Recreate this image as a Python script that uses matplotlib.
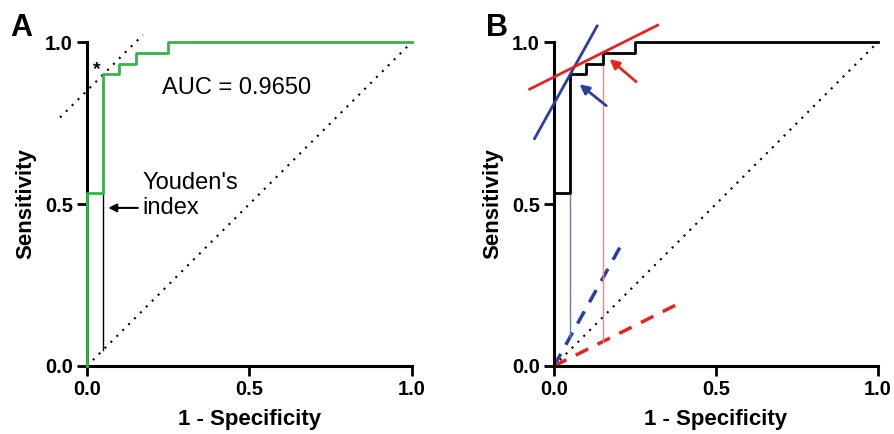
import matplotlib.pyplot as plt
import numpy as np

plt.rcParams['font.family'] = ['Liberation Sans', 'DejaVu Sans']

# ROC curve (step points)
fpr = [0, 0, 0.05, 0.05, 0.10, 0.10, 0.15, 0.15, 0.25, 0.25, 1.0]
tpr = [0, 0.533, 0.533, 0.9, 0.9, 0.933, 0.933, 0.967, 0.967, 1.0, 1.0]
auc_text = "AUC = 0.9650"

# Youden point / tangent in panel A
youden_x, youden_y = 0.05, 0.9
tangent_a_x = [-0.083, 0.172]

# panel B tangent lines
blue_pt = (0.05, 0.9)
blue_slope = 1.8
blue_x = [-0.06, 0.133]
red_pt = (0.15, 0.967)
red_slope = 0.5
red_x = [-0.075, 0.32]
blue_dash_end = 0.204
red_dash_end = 0.383

green = '#35b44a'
blue = '#2b3f9c'
red = '#e52421'

fig = plt.figure(figsize=(8.95, 4.34), dpi=100)
axA = fig.add_axes([0.0972, 0.1567, 0.363, 0.7465])
axB = fig.add_axes([0.619, 0.1567, 0.362, 0.7465])


def style(ax):
    ax.set_xlim(0, 1)
    ax.set_ylim(0, 1)
    for s in ['top', 'right']:
        ax.spines[s].set_visible(False)
    for s in ['left', 'bottom']:
        ax.spines[s].set_linewidth(2.2)
    ax.set_xticks([0, 0.5, 1.0])
    ax.set_yticks([0, 0.5, 1.0])
    ax.set_xticklabels(['0.0', '0.5', '1.0'], fontweight='bold')
    ax.set_yticklabels(['0.0', '0.5', '1.0'], fontweight='bold')
    ax.tick_params(direction='out', length=7, width=2, labelsize=14.5, pad=3)
    ax.set_xlabel('1 - Specificity', fontsize=16, fontweight='bold', labelpad=7)
    ax.set_ylabel('Sensitivity', fontsize=16, fontweight='bold', labelpad=6)
    ax.plot([0, 1], [0, 1], ls=(0, (1, 3)), color='black', lw=1.5, clip_on=False)


# Panel A
style(axA)
axA.plot(tangent_a_x, [x - youden_x + youden_y for x in tangent_a_x],
         ls=(0, (1, 3)), color='black', lw=1.5, clip_on=False)
axA.plot([youden_x, youden_x], [youden_x, youden_y], color='black', lw=1, zorder=3)
axA.plot(fpr, tpr, color=green, lw=2, clip_on=False, zorder=4)
axA.text(0.03, 0.915, '*', fontsize=14, fontweight='bold', ha='center', va='center')
axA.text(0.232, 0.858, auc_text, fontsize=17, va='center')
axA.annotate('', xy=(0.057, 0.488), xytext=(0.165, 0.488),
             arrowprops=dict(arrowstyle='-|>', color='black', lw=1.5, mutation_scale=12))
axA.text(0.172, 0.565, "Youden's", fontsize=17, va='center')
axA.text(0.172, 0.488, "index", fontsize=17, va='center')
fig.text(0.011, 0.935, 'A', fontsize=22, fontweight='bold', va='center')

# Panel B
style(axB)
bx = np.array(blue_x)
axB.plot(bx, blue_pt[1] + blue_slope * (bx - blue_pt[0]), color=blue, lw=2, clip_on=False, zorder=5)
rx = np.array(red_x)
axB.plot(rx, red_pt[1] + red_slope * (rx - red_pt[0]), color=red, lw=2, clip_on=False, zorder=5)
axB.plot([0, blue_dash_end], [0, blue_slope * blue_dash_end], color=blue, lw=2.5, ls=(0, (4, 3)))
axB.plot([0, red_dash_end], [0, red_slope * red_dash_end], color=red, lw=2.5, ls=(0, (4, 3)))
axB.plot([blue_pt[0], blue_pt[0]], [blue_slope * blue_pt[0], blue_pt[1]], color='#6a78c4', lw=1, zorder=3)
axB.plot([red_pt[0], red_pt[0]], [red_slope * red_pt[0], red_pt[1]], color='#f08a85', lw=1, zorder=3)
axB.plot(fpr, tpr, color='black', lw=2, clip_on=False, zorder=4)
axB.annotate('', xy=(0.072, 0.875), xytext=(0.168, 0.798),
             arrowprops=dict(arrowstyle='-|>', color=blue, lw=2, mutation_scale=14))
axB.annotate('', xy=(0.165, 0.953), xytext=(0.26, 0.872),
             arrowprops=dict(arrowstyle='-|>', color=red, lw=2, mutation_scale=14))
fig.text(0.543, 0.935, 'B', fontsize=22, fontweight='bold', va='center')

fig.savefig('out.png', dpi=100)
